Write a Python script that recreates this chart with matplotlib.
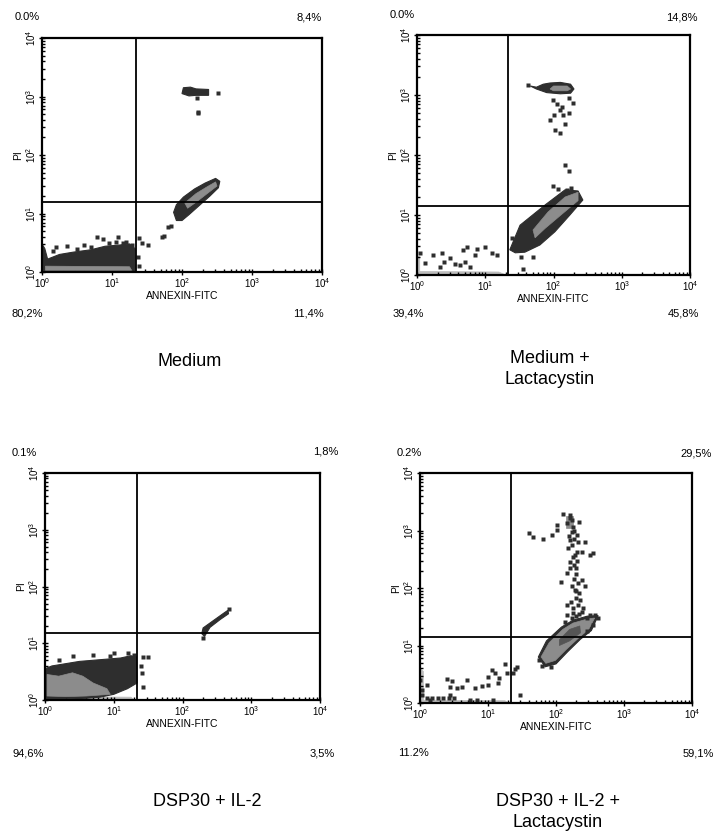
import numpy as np
import matplotlib
matplotlib.use('Agg')
import matplotlib.pyplot as plt
from matplotlib.patches import Polygon
from matplotlib.ticker import FixedLocator, NullFormatter

plt.rcParams['font.family'] = ['Liberation Sans', 'DejaVu Sans']
plt.rcParams['mathtext.fontset'] = 'custom'
plt.rcParams['mathtext.rm'] = 'Liberation Sans'
plt.rcParams['mathtext.it'] = 'Liberation Sans'

# ---------------- data (log10 units of ANNEXIN-FITC, PI) ----------------
titles = ["Medium", "Medium +\nLactacystin", "DSP30 + IL-2", "DSP30 + IL-2 +\nLactacystin"]
pct_tl = ["0.0%", "0.0%", "0.1%", "0.2%"]
pct_tr = ["8,4%", "14,8%", "1,8%", "29,5%"]
pct_bl = ["80,2%", "39,4%", "94,6%", "11.2%"]
pct_br = ["11,4%", "45,8%", "3,5%", "59,1%"]
gate_x = [1.34, 1.33, 1.34, 1.34]
gate_y = [1.20, 1.15, 1.18, 1.15]
tick_labels = [r"$10^{0}$", r"$10^{1}$", r"$10^{2}$", r"$10^{3}$", r"$10^{4}$"]

# Panel 1 : Medium
p1_light = [[(0, 0), (0, 0.07), (1.30, 0.06), (1.34, 0.0)]]
p1_dark = [
    [(0, 0.02), (0, 0.48), (0.04, 0.40), (0.08, 0.22), (0.25, 0.30), (0.45, 0.34), (0.7, 0.38),
     (0.9, 0.44), (1.1, 0.46), (1.25, 0.48), (1.33, 0.40), (1.33, 0.02)],
    [(1.88, 1.02), (1.92, 1.15), (2.02, 1.28), (2.18, 1.42), (2.33, 1.52), (2.48, 1.60), (2.54, 1.55),
     (2.52, 1.44), (2.40, 1.30), (2.25, 1.14), (2.10, 0.98), (2.00, 0.88), (1.92, 0.88)],
    [(2.00, 3.05), (2.02, 3.15), (2.12, 3.16), (2.20, 3.13), (2.38, 3.12), (2.38, 3.02), (2.20, 3.02), (2.10, 3.01)],
]
p1_gray = [
    [(2.04, 1.18), (2.20, 1.34), (2.35, 1.45), (2.48, 1.54), (2.50, 1.47), (2.37, 1.35), (2.22, 1.21), (2.08, 1.09)],
    [(0.05, 0.03), (0.05, 0.10), (1.25, 0.09), (1.28, 0.03)],
]
p1_core = []
p1_dots = [(0.79, 0.60), (0.87, 0.56), (1.09, 0.60), (1.20, 0.52), (1.05, 0.52), (0.60, 0.46), (0.35, 0.44),
           (0.20, 0.42), (1.28, 0.46), (0.95, 0.50), (0.50, 0.40), (1.43, 0.50), (1.52, 0.46), (1.38, 0.58),
           (1.37, 0.25), (1.38, 0.10), (1.71, 0.60), (1.74, 0.62), (1.80, 0.77), (1.84, 0.78),
           (2.51, 3.06), (2.23, 2.74), (2.23, 2.71), (2.21, 2.97), (0.15, 0.36), (0.70, 0.42), (1.15, 0.50)]

# Panel 2 : Medium + Lactacystin
p2_light = [[(0, 0), (0, 0.06), (1.20, 0.05), (1.30, 0.0)], [(0, 0), (0, 0.32), (0.04, 0.30), (0.04, 0)]]
p2_dark = [
    [(1.36, 0.42), (1.51, 0.83), (1.88, 1.17), (2.17, 1.42), (2.36, 1.40), (2.43, 1.25), (2.24, 1.00),
     (2.02, 0.72), (1.80, 0.50), (1.58, 0.38), (1.44, 0.37)],
    [(1.66, 3.15), (1.75, 3.13), (1.85, 3.18), (1.95, 3.20), (2.10, 3.21), (2.25, 3.18), (2.30, 3.10),
     (2.25, 3.03), (2.10, 3.02), (1.90, 3.04), (1.75, 3.10)],
]
p2_gray = [
    [(1.70, 0.75), (1.92, 1.05), (2.17, 1.30), (2.36, 1.38), (2.36, 1.24), (2.14, 1.03), (1.88, 0.78), (1.73, 0.62)],
    [(1.95, 3.10), (2.00, 3.15), (2.20, 3.15), (2.25, 3.10), (2.20, 3.07), (2.00, 3.07)],
]
p2_core = []
p2_dots = [(0.04, 0.37), (0.12, 0.20), (0.23, 0.33), (0.37, 0.37), (0.48, 0.28), (0.67, 0.42), (0.73, 0.47),
           (0.85, 0.33), (0.88, 0.43), (1.00, 0.47), (1.10, 0.37), (1.17, 0.33), (0.34, 0.13), (0.63, 0.17),
           (0.78, 0.13), (0.40, 0.22), (0.56, 0.18), (0.70, 0.22), (1.39, 0.62), (1.52, 0.30), (1.70, 0.30),
           (1.55, 0.10), (1.99, 2.92), (2.10, 2.75), (2.14, 2.67), (2.00, 2.67), (2.22, 2.70), (1.95, 2.58),
           (2.17, 2.52), (2.02, 2.42), (2.10, 2.37), (2.17, 1.83), (2.23, 1.73), (2.29, 2.87), (2.23, 2.95),
           (2.05, 2.85), (2.12, 2.80), (1.99, 1.48), (2.07, 1.43), (2.25, 1.45), (2.20, 1.42), (1.62, 3.16)]

# Panel 3 : DSP30 + IL-2
p3_light = [[(0, 0), (0, 0.06), (1.25, 0.05), (1.30, 0.0)]]
p3_dark = [
    [(0, 0.02), (0, 0.55), (0.10, 0.60), (0.30, 0.64), (0.50, 0.68), (0.70, 0.70), (0.90, 0.72),
     (1.10, 0.74), (1.25, 0.78), (1.33, 0.76), (1.34, 0.30), (1.20, 0.20), (1.00, 0.10), (0.80, 0.05),
     (0.60, 0.03), (0.30, 0.02)],
    [(2.28, 1.17), (2.30, 1.27), (2.45, 1.40), (2.60, 1.53), (2.66, 1.58), (2.67, 1.52), (2.55, 1.42),
     (2.40, 1.28), (2.32, 1.12)],
]
p3_gray = [[(0.03, 0.07), (0.03, 0.45), (0.20, 0.42), (0.40, 0.48), (0.55, 0.42), (0.70, 0.30),
            (0.90, 0.20), (0.95, 0.10), (0.60, 0.07), (0.30, 0.06)]]
p3_core = []
p3_dots = [(1.43, 0.76), (1.50, 0.76), (1.41, 0.48), (1.43, 0.23), (1.40, 0.60), (1.00, 0.82), (0.70, 0.80),
           (0.95, 0.78), (0.40, 0.78), (1.20, 0.82), (1.30, 0.80), (0.20, 0.70), (2.68, 1.60), (2.30, 1.10)]

# Panel 4 : DSP30 + IL-2 + Lactacystin
p4_light = [[(0, 0), (0, 0.05), (1.25, 0.04), (1.30, 0.0)], [(0, 0), (0, 0.60), (0.05, 0.55), (0.05, 0)]]
p4_dark = [[(1.74, 0.80), (1.86, 1.08), (2.08, 1.32), (2.25, 1.44), (2.46, 1.51), (2.62, 1.52), (2.52, 1.26),
            (2.36, 1.11), (2.17, 0.89), (2.00, 0.68), (1.84, 0.63)]]
p4_gray = [[(1.78, 0.80), (1.90, 1.05), (2.10, 1.28), (2.25, 1.39), (2.46, 1.46), (2.57, 1.48), (2.48, 1.28),
            (2.34, 1.14), (2.15, 0.93), (1.99, 0.74), (1.85, 0.69)],
           [(2.15, 3.05), (2.15, 3.25), (2.25, 3.25), (2.25, 3.05)]]
p4_core = [[(2.05, 1.10), (2.20, 1.28), (2.35, 1.34), (2.36, 1.22), (2.20, 1.08), (2.05, 1.00)]]
p4_dots = [(2.10, 3.29), (2.21, 3.27), (2.24, 3.18), (2.16, 3.13), (2.25, 3.06), (2.34, 3.15), (2.01, 3.10),
           (2.01, 3.01), (1.94, 2.92), (1.60, 2.96), (1.66, 2.89), (1.81, 2.85), (2.24, 2.97), (2.31, 2.92),
           (2.21, 2.83), (2.32, 2.80), (2.43, 2.80), (2.24, 2.75), (2.18, 2.70), (2.31, 2.63), (2.38, 2.63),
           (2.50, 2.57), (2.54, 2.61), (2.25, 2.54), (2.31, 2.47), (2.21, 2.45), (2.29, 2.35), (2.21, 2.35),
           (2.16, 2.26), (2.07, 2.10), (2.38, 2.14), (2.32, 2.09), (2.43, 2.03), (2.24, 2.03), (2.28, 1.97),
           (2.34, 1.91), (2.29, 1.83), (2.35, 1.79), (2.16, 1.70), (2.32, 1.70), (2.25, 1.65), (2.40, 1.65),
           (2.16, 1.53), (2.25, 1.57), (2.34, 1.55), (2.50, 1.53), (2.57, 1.53), (2.62, 1.48), (2.24, 1.48),
           (2.46, 1.48), (2.13, 1.41), (2.20, 3.22), (2.27, 3.00), (2.19, 2.90), (2.27, 2.86), (2.28, 2.58),
           (2.26, 2.40), (2.30, 2.25), (2.27, 2.15), (2.30, 1.95), (2.22, 1.75), (2.38, 1.58), (2.30, 1.52),
           (1.80, 0.64), (1.92, 0.62), (1.75, 0.75), (2.55, 1.35), (2.45, 1.25),
           (0.00, 0.40), (0.03, 0.23), (0.10, 0.31), (0.03, 0.14), (0.40, 0.42), (0.47, 0.38), (0.44, 0.28),
           (0.54, 0.26), (0.62, 0.28), (0.69, 0.40), (0.81, 0.26), (0.91, 0.30), (1.00, 0.45), (1.00, 0.31),
           (1.06, 0.57), (1.10, 0.52), (1.15, 0.35), (1.16, 0.43), (1.25, 0.68), (1.28, 0.52), (1.40, 0.59),
           (1.43, 0.63), (1.37, 0.52), (1.47, 0.14), (0.84, 0.05), (0.74, 0.05), (0.44, 0.14), (0.15, 0.05),
           (1.07, 0.05), (0.10, 0.08), (0.18, 0.08), (0.26, 0.08), (0.34, 0.08), (0.42, 0.08), (0.50, 0.08)]

panels = [
    dict(light=p1_light, dark=p1_dark, gray=p1_gray, core=p1_core, dots=p1_dots),
    dict(light=p2_light, dark=p2_dark, gray=p2_gray, core=p2_core, dots=p2_dots),
    dict(light=p3_light, dark=p3_dark, gray=p3_gray, core=p3_core, dots=p3_dots),
    dict(light=p4_light, dark=p4_dark, gray=p4_gray, core=p4_core, dots=p4_dots),
]

# ---------------- layout (pixels) ----------------
W, H = 717, 832
fig = plt.figure(figsize=(W / 100, H / 100), dpi=100)

def fx(x):
    return x / W

def fy(y):
    return 1 - y / H

axes_px = [(42, 38, 322, 272), (417, 35, 690, 275), (45, 473, 320, 700), (420, 473, 692, 703)]
pct_pos = [
    [(15, 17, 'left'), (322, 17, 'right'), (12, 314, 'left'), (293, 314, 'left')],
    [(390, 15, 'left'), (698, 17, 'right'), (393, 314, 'left'), (668, 314, 'left')],
    [(12, 453, 'left'), (338, 452, 'right'), (13, 753, 'left'), (310, 753, 'left')],
    [(397, 453, 'left'), (712, 453, 'right'), (398, 753, 'left'), (714, 753, 'right')],
]
title_pos = [(190, 361), (550, 369), (207, 801), (558, 812)]

DARK = '#2e2e2e'
GRAY = '#8c8c8c'
LIGHT = '#bdbdbd'
CORE = '#555555'

def poly(ax, pts, color, z, lw=0.5):
    ax.add_patch(Polygon([(10 ** x, 10 ** y) for x, y in pts], closed=True, fc=color, ec=color, lw=lw, zorder=z))

for i, (l, t, r, b) in enumerate(axes_px):
    ax = fig.add_axes([fx(l), fy(b), (r - l) / W, (b - t) / H])
    ax.set_xscale('log')
    ax.set_yscale('log')
    ax.set_xlim(1, 1e4)
    ax.set_ylim(1, 1e4)
    p = panels[i]
    for pts in p['light']:
        poly(ax, pts, LIGHT, 1)
    for pts in p['dark']:
        poly(ax, pts, DARK, 2, 0.8)
    for pts in p['gray']:
        poly(ax, pts, GRAY, 3)
    for pts in p['core']:
        poly(ax, pts, CORE, 3.5)
    dx = [10 ** x for x, y in p['dots']]
    dy = [10 ** y for x, y in p['dots']]
    ax.plot(dx, dy, 's', ms=2.5, color=DARK, mec='none', zorder=4)
    ax.axvline(10 ** gate_x[i], color='black', lw=1.3, zorder=5)
    ax.axhline(10 ** gate_y[i], color='black', lw=1.3, zorder=5)
    for s in ax.spines.values():
        s.set_linewidth(1.6)
        s.set_zorder(6)
    major = [1, 10, 100, 1000, 10000]
    minor = [m * 10 ** d for d in range(4) for m in range(2, 10)]
    ax.xaxis.set_major_locator(FixedLocator(major))
    ax.yaxis.set_major_locator(FixedLocator(major))
    ax.xaxis.set_minor_locator(FixedLocator(minor))
    ax.yaxis.set_minor_locator(FixedLocator(minor))
    ax.xaxis.set_minor_formatter(NullFormatter())
    ax.yaxis.set_minor_formatter(NullFormatter())
    ax.set_xticklabels(tick_labels, fontsize=7)
    ax.set_yticklabels(tick_labels, fontsize=7, rotation=90, va='center')
    ax.tick_params(which='major', direction='inout', length=4, width=1.0, pad=1)
    ax.tick_params(which='minor', direction='in', length=2.5, width=1.0)
    ax.set_xlabel("ANNEXIN-FITC", fontsize=7.5, labelpad=1)
    ax.set_ylabel("PI", fontsize=7.5, labelpad=1)
    labels = [pct_tl[i], pct_tr[i], pct_bl[i], pct_br[i]]
    for txt, (x, y, ha) in zip(labels, pct_pos[i]):
        fig.text(fx(x), fy(y), txt, ha=ha, va='center', fontsize=8)
    tx, ty = title_pos[i]
    fig.text(fx(tx), fy(ty), titles[i], ha='center', va='center', fontsize=13, linespacing=1.25)

fig.savefig('out.png', dpi=100)
